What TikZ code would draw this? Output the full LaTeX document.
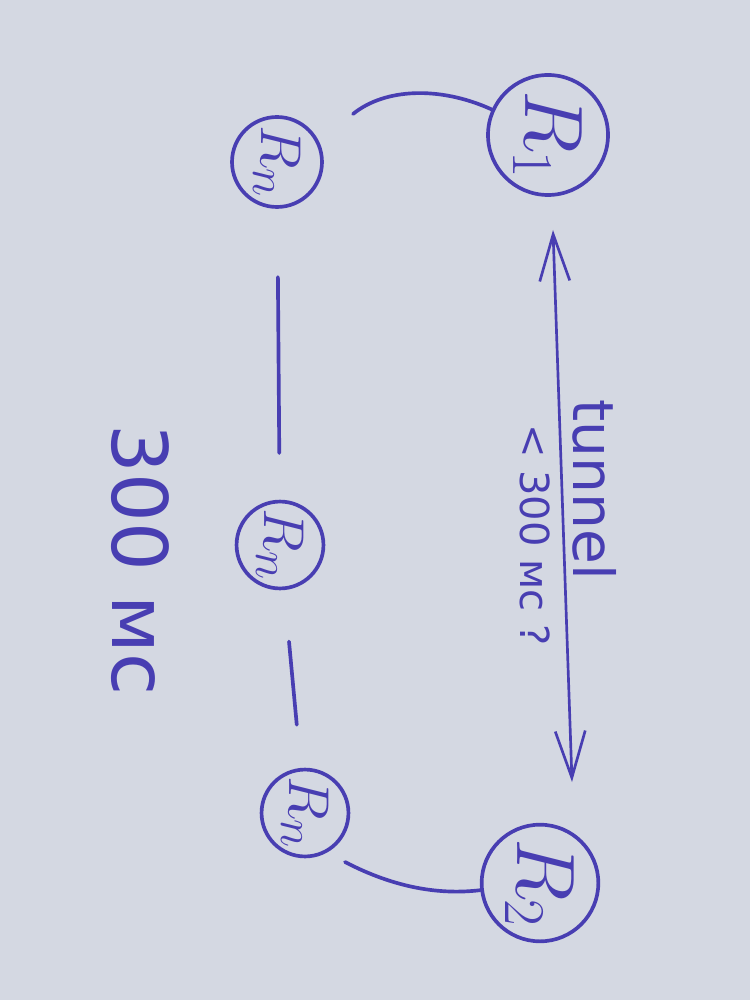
\documentclass[tikz,border=0pt]{standalone}
\usepackage{fontspec}
\newfontfamily\cyr{DejaVu Sans}
\usetikzlibrary{arrows.meta}
\definecolor{ink}{RGB}{72,62,178}
\definecolor{paper}{RGB}{212,216,226}
\begin{document}
\begin{tikzpicture}[x=0.3pt,y=-0.3pt,
  router/.style={circle,draw=ink,line width=1.1pt,inner sep=0pt,text=ink,rotate=-90,font=\fontsize{24}{26}\selectfont},
  small/.style={font=\fontsize{19}{20}\selectfont},
  link/.style={draw=ink,line width=1.1pt,line cap=round},
  txt/.style={text=ink,rotate=-90,inner sep=0pt}]
\fill[paper] (0,0) rectangle (750,1000);
\useasboundingbox (0,0) rectangle (750,1000);
% routers
\node[router,minimum size=36pt] (r1) at (548,135) {$R_1$};
\node[router,small,minimum size=27pt] (rn1) at (277,162) {$R_n$};
\node[router,small,minimum size=26pt] (rn2) at (280,545) {$R_n$};
\node[router,small,minimum size=25pt] (rn3) at (305,813) {$R_n$};
\node[router,minimum size=35pt] (r2) at (540,883) {$R_2$};
% free ends
\coordinate (t1) at (353,114);
\coordinate (b1) at (345,862);
\coordinate (a1) at (553,230);
\coordinate (a2) at (572,782);
% connectors
\draw[link] (r1) .. controls (440,86) and (385,88) .. (t1);
\draw[link,shorten <=20.5pt,shorten >=14pt] (rn1) -- (rn2);
\draw[link,shorten <=15.5pt,shorten >=13pt] (rn2) -- (rn3);
\draw[link] (b1) .. controls (395,888) and (440,895) .. (r2);
\draw[draw=ink,line width=0.8pt,{Straight Barb[length=14pt,width=9pt]}-{Straight Barb[length=14pt,width=9pt]}] (a1) -- (a2);
% labels
\node[txt,font=\cyr\fontsize{17}{17}\selectfont] (tun) at (595,490) {tunnel};
\node[txt,font=\cyr\fontsize{12}{12}\selectfont] (lt) at (535,535) {< 300 мс ?};
\node[txt,font=\cyr\fontsize{23}{23}\selectfont] (ms) at (140,560) {300 мс};
\end{tikzpicture}
\end{document}
